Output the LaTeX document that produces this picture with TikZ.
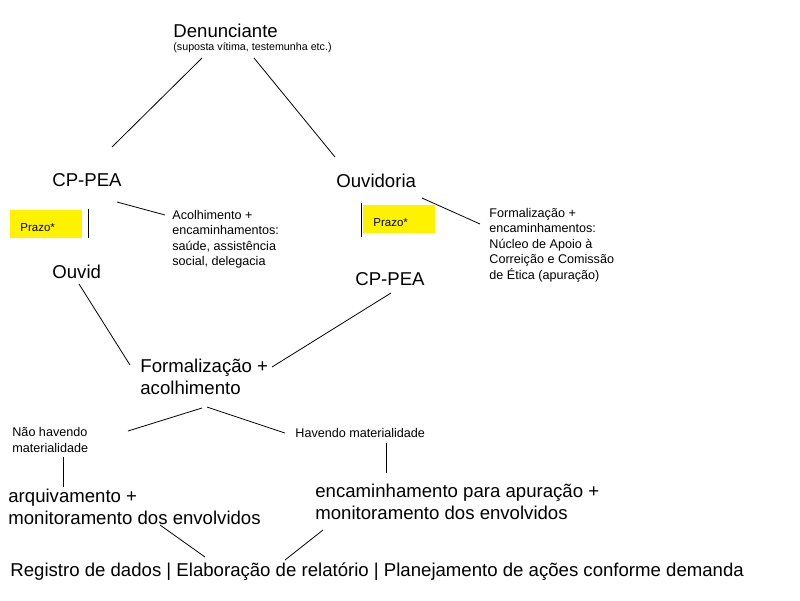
\documentclass[tikz,border=0pt]{standalone}
\usepackage{fontspec}
\setmainfont{Liberation Sans}

\begin{document}
\begin{tikzpicture}[x=1pt,y=-1pt,line width=0.8pt,
    big/.style={anchor=west,inner sep=0,align=left,font=\fontsize{18.6}{22}\selectfont},
    small/.style={anchor=west,inner sep=0,align=left,font=\fontsize{12.6}{15.5}\selectfont},
    tiny/.style={anchor=west,inner sep=0,font=\fontsize{10.7}{12}\selectfont},
    prazobox/.style={anchor=west,fill=yellow,inner xsep=10pt,inner ysep=0pt,minimum height=28pt,text width=52pt,text height=14pt,text depth=0pt,align=left,font=\fontsize{11.5}{13}\selectfont}]
\useasboundingbox (0,0) rectangle (800,600);
\node[big] (den) at (173,31) {Denunciante};
\node[tiny] (sup) at (173,48) {(suposta vítima, testemunha etc.)};
\node[big] (cpl) at (52,180) {CP-PEA};
\node[prazobox] (pzl) at (10,224) {Prazo*};
\node[small] (acl) at (172,239) {Acolhimento +\\encaminhamentos:\\saúde, assistência\\social, delegacia};
\node[big] (ouvid) at (52,272) {Ouvid};
\node[big] (ouv) at (336,181) {Ouvidoria};
\node[prazobox] (pzr) at (363,219) {Prazo*};
\node[small] (frm) at (489,245) {Formalização +\\encaminhamentos:\\Núcleo de Apoio à\\Correição e Comissão\\de Ética (apuração)};
\node[big] (cpr) at (355,279) {CP-PEA};
\node[big] (fa) at (140,376.5) {Formalização +\\acolhimento};
\node[small] (nao) at (12,440) {Não havendo\\materialidade};
\node[small] (hav) at (295,433) {Havendo materialidade};
\node[big] (arq) at (8,507) {arquivamento +\\monitoramento dos envolvidos};
\node[big] (enc) at (315,501.5) {encaminhamento para apuração +\\monitoramento dos envolvidos};
\node[big] (reg) at (10,572) {Registro de dados | Elaboração de relatório | Planejamento de ações conforme demanda};
\draw ([xshift=29,yshift=-10]sup.west) -- ([xshift=60,yshift=33]cpl.west);
\draw ([xshift=81,yshift=-10]sup.west) -- ([xshift=-1,yshift=24]ouv.west);
\draw ([xshift=65,yshift=-22]cpl.west) -- ([xshift=-7,yshift=24]acl.west);
\draw ([xshift=36,yshift=-29]cpl.west) -- ([xshift=36,yshift=34]ouvid.west);
\draw ([xshift=27,yshift=-12]ouvid.west) -- ([xshift=-10,yshift=11.5]fa.west);
\draw ([xshift=86,yshift=-17]ouv.west) -- ([xshift=-9,yshift=21]frm.west);
\draw ([xshift=25,yshift=-22]ouv.west) -- ([xshift=6,yshift=42]cpr.west);
\draw ([xshift=36,yshift=-14]cpr.west) -- ([xshift=132,yshift=9.5]fa.west);
\draw ([xshift=62,yshift=-31.5]fa.west) -- ([xshift=116,yshift=9]nao.west);
\draw ([xshift=67,yshift=-30.5]fa.west) -- ([xshift=-10,yshift=0]hav.west);
\draw ([xshift=51,yshift=-17]nao.west) -- ([xshift=55,yshift=20]arq.west);
\draw ([xshift=91,yshift=-10]hav.west) -- ([xshift=71,yshift=28.5]enc.west);
\draw ([xshift=152,yshift=-18]arq.west) -- ([xshift=195,yshift=15]reg.west);
\draw ([xshift=8,yshift=-28.5]enc.west) -- ([xshift=275,yshift=12]reg.west);
\end{tikzpicture}
\end{document}
